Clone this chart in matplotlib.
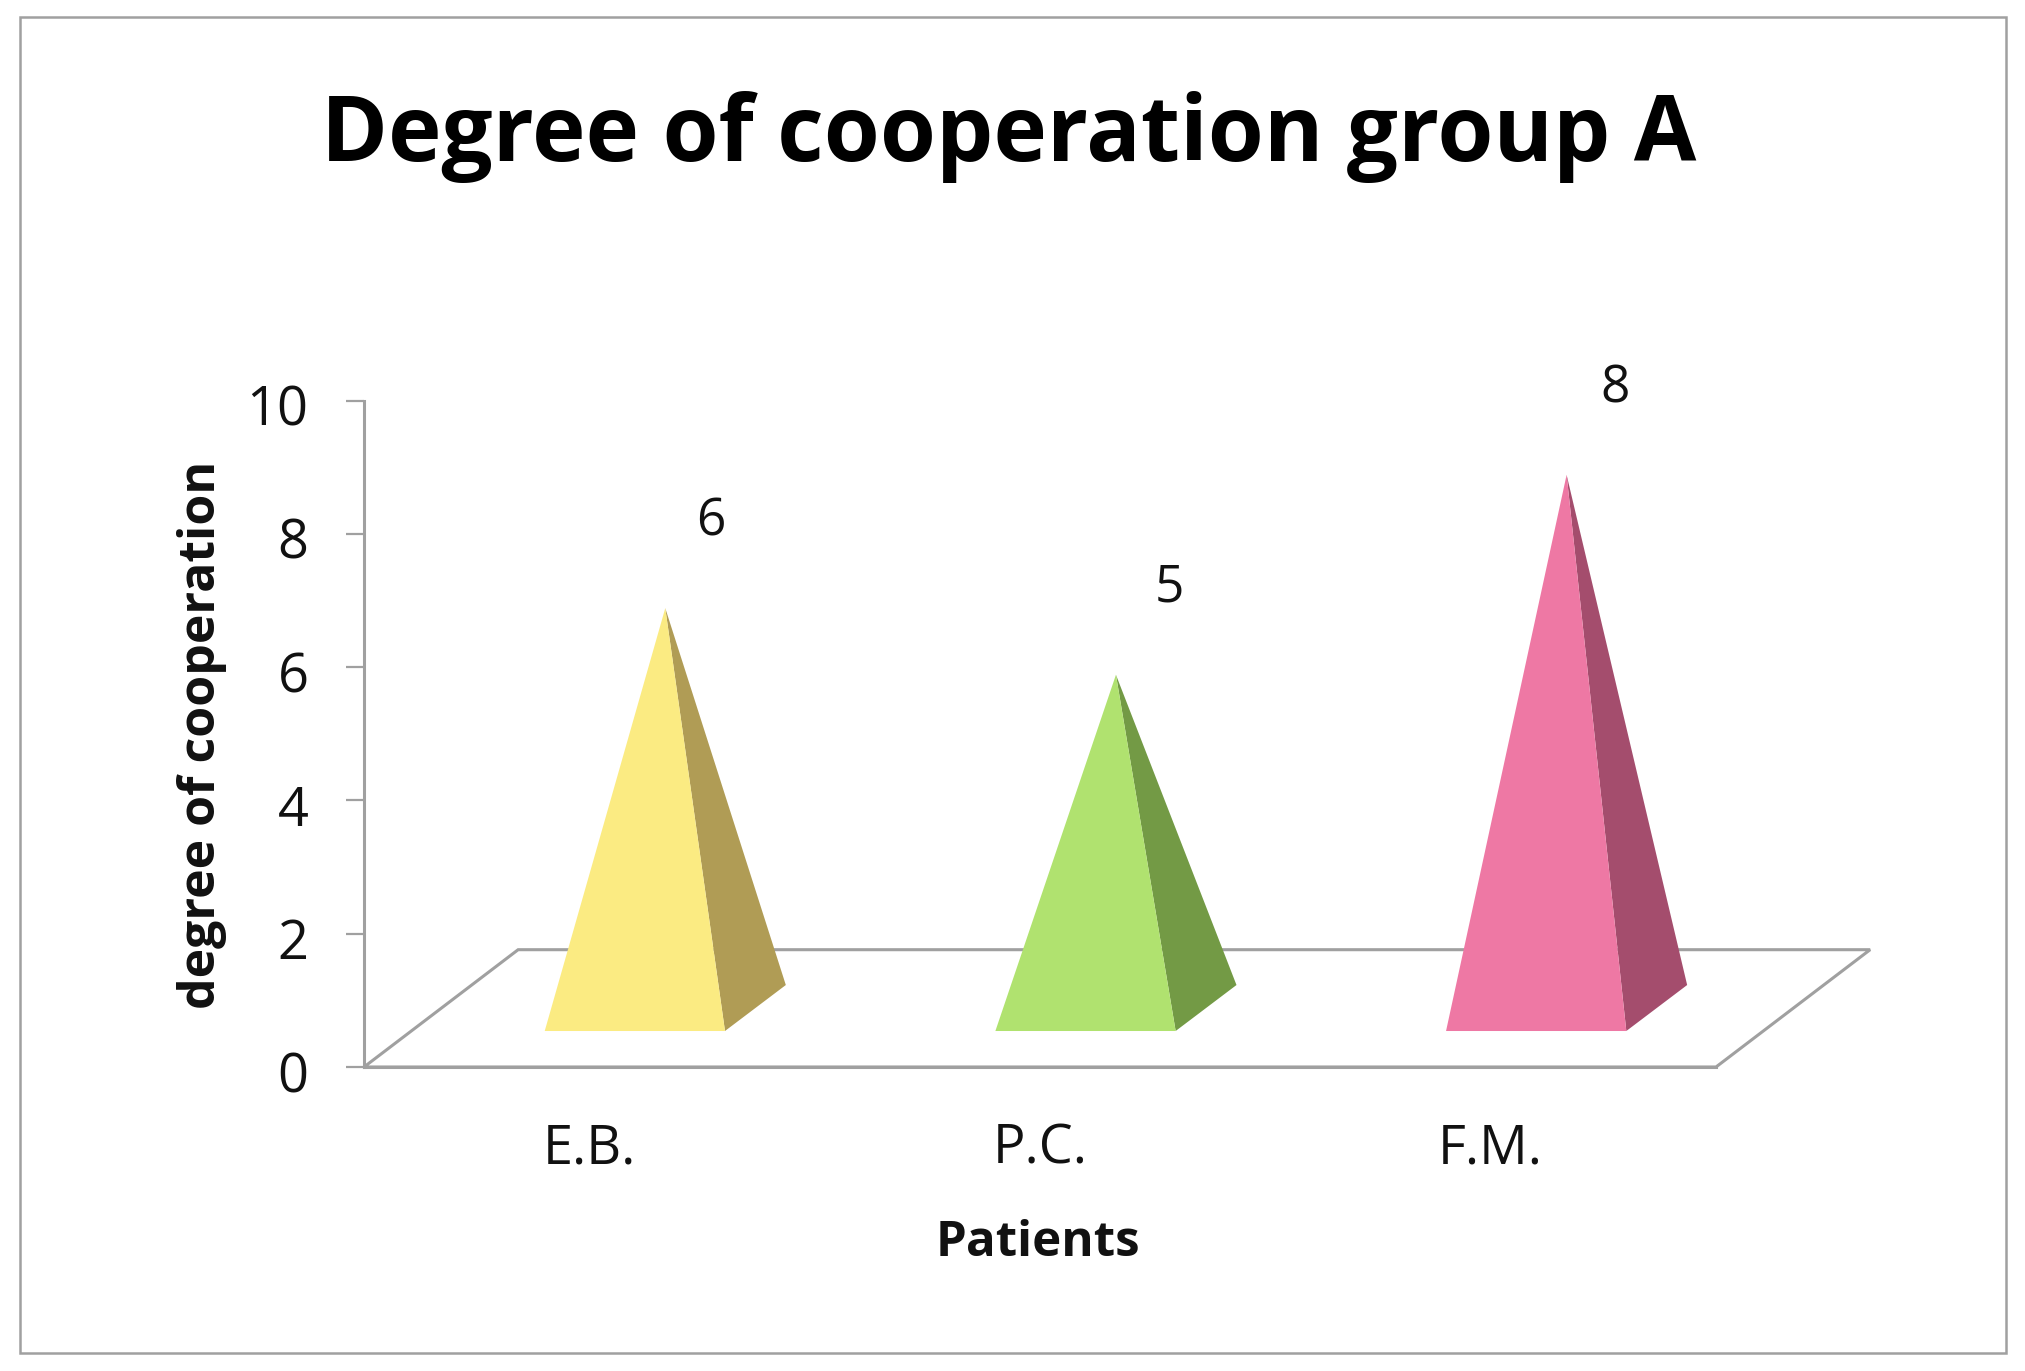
import matplotlib
matplotlib.use("Agg")
import matplotlib.pyplot as plt
from matplotlib.patches import Polygon, Rectangle
from matplotlib.transforms import ScaledTranslation

plt.rcParams['font.family'] = ['Open Sans', 'DejaVu Sans']

categories = ['E.B.', 'P.C.', 'F.M.']
values = [6, 5, 8]
front_colors = ['#FBEB82', '#B0E26F', '#EE78A4']
side_colors = ['#B09C55', '#739A45', '#A44D6D']
GRAY = '#A0A0A0'
TEXT = '#111111'

W, H = 2025, 1371
fig = plt.figure(figsize=(W / 100, H / 100), dpi=100, facecolor='white')
L, R, T, B = 364, 1716, 400.5, 1067
ax = fig.add_axes([L / W, 1 - B / H, (R - L) / W, (B - T) / H])
ax.set_xlim(-0.5, 2.5)
ax.set_ylim(0, 10)
ax.patch.set_alpha(0)

fig.add_artist(Rectangle((20 / W, 1 - 1353 / H), (2006 - 20) / W, (1353 - 17) / H,
                         transform=fig.transFigure, fill=False, ec=GRAY, lw=1.8))

# floor of the 3-D chart
fdx, fdy = 0.342, 1.76
ax.add_patch(Polygon([(-0.5, 0), (2.5, 0), (2.5 + fdx, fdy), (-0.5 + fdx, fdy)],
                     closed=True, fc='white', ec=GRAY, lw=2.2, clip_on=False,
                     joinstyle='miter', zorder=1))

# pyramids
half = 0.2      # half width of the base, category units
shift = 0.101   # base offset to the right of the category centre
rise = 0.54     # base front edge above the axis
bdx, bdy = 0.135, 0.69   # depth of the base
label_dx = [0.27, 0.287, 0.277]
for i, (v, fc, sc, ldx) in enumerate(zip(values, front_colors, side_colors, label_dx)):
    x0 = i + shift - half
    x1 = i + shift + half
    apex = (i + shift + bdx / 2, rise + bdy / 2 + v)
    ax.add_patch(Polygon([(x1, rise), (x1 + bdx, rise + bdy), apex], closed=True,
                         fc=sc, ec='none', clip_on=False, zorder=3))
    ax.add_patch(Polygon([(x0, rise), (x1, rise), apex], closed=True,
                         fc=fc, ec='none', clip_on=False, zorder=4))
    ax.text(i + ldx, v + 2.18, str(v), ha='center', va='center',
            fontsize=37, color=TEXT, clip_on=False, zorder=5)

for s in ('top', 'right'):
    ax.spines[s].set_visible(False)
for s in ('left', 'bottom'):
    ax.spines[s].set_color(GRAY)
    ax.spines[s].set_linewidth(2.2)
    ax.spines[s].set_zorder(2)

ax.set_yticks(range(0, 11, 2))
ax.set_xticks(range(len(categories)))
ax.set_xticklabels(categories)
ax.tick_params(axis='y', length=13, width=1.6, color=GRAY, pad=27, labelsize=39, labelcolor=TEXT)
ax.tick_params(axis='x', length=0, pad=39, labelsize=39, labelcolor=TEXT)

# the value labels sit slightly below their tick marks
down = ScaledTranslation(0, -3 / 72, fig.dpi_scale_trans)
for lab in ax.get_yticklabels():
    lab.set_transform(lab.get_transform() + down)

ax.set_xlabel('Patients', fontsize=35.5, fontweight='bold', color=TEXT)
ax.xaxis.set_label_coords(0.4985, -0.265)
ax.xaxis.label.set_va('center')
ax.set_ylabel('degree of cooperation', fontsize=36, fontweight='bold', color=TEXT)
ax.yaxis.set_label_coords(-0.120, 0.499)
ax.yaxis.label.set_va('center')

ax.text(0.477, 1.395, 'Degree of cooperation group A', transform=ax.transAxes,
        ha='center', va='center', fontsize=65.2, fontweight='bold', color='black')

fig.savefig('out.png', dpi=100, facecolor='white')
